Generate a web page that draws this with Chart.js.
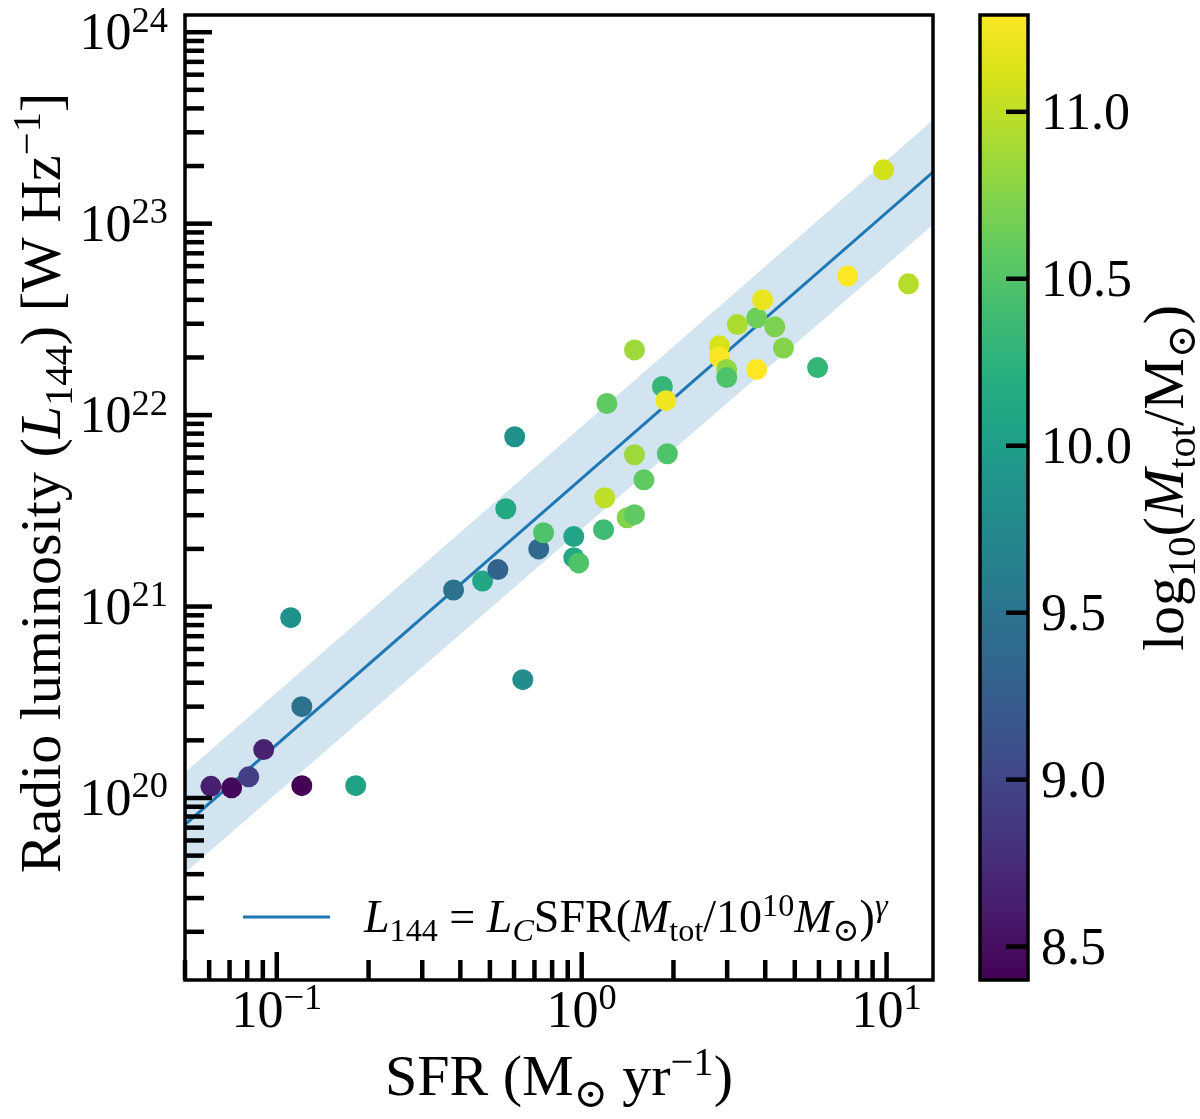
<!DOCTYPE html>
<html>
<head>
<meta charset="UTF-8" />
<script src="https://cdn.jsdelivr.net/npm/chart.js@4.4.0/dist/chart.umd.min.js"></script>
<title>Radio luminosity vs SFR</title>
<style>
	html, body { margin: 0; padding: 0; background: #fff; }
</style>
</head>
<body>
<canvas id="chart" width="1200" height="1119"></canvas>
<script>
// galaxies: SFR (Msun/yr), L144 (W/Hz), log10 total mass
const sfr = [0.0608, 0.0711, 0.0809, 0.0906, 0.1208, 0.1111, 0.1208, 0.1815, 0.380, 0.473,
	0.531, 0.564, 0.603, 0.641, 0.723, 0.750, 0.942, 0.942, 0.978, 1.18,
	1.19, 1.21, 1.41, 1.49, 1.49, 1.60, 1.91, 1.49, 1.84, 1.89,
	2.83, 2.83, 2.99, 2.99, 3.24, 3.75, 3.92, 4.30, 3.75, 4.59,
	5.94, 7.45, 9.77, 11.8];
const lum = [1.15e20, 1.13e20, 1.29e20, 1.79e20, 1.16e20, 8.75e20, 3.0e20, 1.16e20, 1.22e21, 1.36e21,
	1.56e21, 3.24e21, 7.71e21, 4.15e20, 2.0e21, 2.43e21, 2.32e21, 1.80e21, 1.69e21, 2.52e21,
	3.70e21, 1.15e22, 2.91e21, 3.02e21, 6.21e21, 4.59e21, 6.28e21, 2.19e22, 1.41e22, 1.19e22,
	2.30e22, 2.01e22, 1.73e22, 1.57e22, 2.97e22, 3.22e22, 4.00e22, 2.89e22, 1.73e22, 2.24e22,
	1.77e22, 5.33e22, 1.91e23, 4.85e22];
const logMass = [8.63, 8.45, 8.92, 8.66, 8.40, 9.85, 9.47, 10.05, 9.48, 10.10,
	9.30, 10.13, 9.85, 9.79, 9.38, 10.48, 10.08, 10.13, 10.48, 10.37,
	11.00, 10.57, 10.75, 10.57, 10.86, 10.57, 10.48, 10.86, 10.31, 11.23,
	11.11, 11.27, 10.80, 10.48, 10.93, 10.65, 11.20, 10.71, 11.29, 10.75,
	10.31, 11.29, 11.09, 10.97];

// best-fit relation and its scatter band, read at the axis edges
const fitSfr = [0.05, 14.2];
const fitLum = [7.26e19, 1.86e23];
const bandUpper = [1.36e20, 3.48e23];
const bandLower = [4.07e19, 9.87e22];

const xRange = [0.05, 14.2];
const yRange = [1.12e19, 1.23e24];
const cbRange = [8.40, 11.29];
const xMajorExp = [-1, 0, 1];
const yMajorExp = [20, 21, 22, 23, 24];
const cbTicks = [8.5, 9.0, 9.5, 10.0, 10.5, 11.0];

const viridisStops = ['#440154', '#48186a', '#472d7b', '#424086', '#3b528b', '#33638d', '#2c728e', '#26828e',
	'#21918c', '#1fa088', '#28ae80', '#3fbc73', '#5ec962', '#84d44b', '#addc30', '#d8e219', '#fde725'];

function hexRgb(h) {
	return [parseInt(h.slice(1, 3), 16), parseInt(h.slice(3, 5), 16), parseInt(h.slice(5, 7), 16)];
}
function viridis(v) {
	let t = (v - cbRange[0]) / (cbRange[1] - cbRange[0]);
	t = Math.max(0, Math.min(1, t));
	const p = t * (viridisStops.length - 1);
	const i = Math.min(Math.floor(p), viridisStops.length - 2);
	const f = p - i;
	const a = hexRgb(viridisStops[i]), b = hexRgb(viridisStops[i + 1]);
	const c = a.map((x, k) => Math.round(x + (b[k] - x) * f));
	return `rgb(${c[0]},${c[1]},${c[2]})`;
}

const SERIF = '"Liberation Serif", "DejaVu Serif", serif';
function font(size, italic) {
	return (italic ? 'italic ' : '') + size + 'px ' + SERIF;
}

// parts: {t, sup, sub, i}
function richWidth(ctx, parts, size) {
	let w = 0;
	parts.forEach(p => {
		const s = (p.sup || p.sub) ? size * 0.7 : size;
		ctx.font = font(s, p.i);
		w += ctx.measureText(p.t).width;
	});
	return w;
}
function drawRich(ctx, parts, x, y, size, align) {
	const w = richWidth(ctx, parts, size);
	let cx = align === 'right' ? x - w : align === 'center' ? x - w / 2 : x;
	ctx.textBaseline = 'alphabetic';
	ctx.textAlign = 'left';
	parts.forEach(p => {
		const s = (p.sup || p.sub) ? size * 0.7 : size;
		const dy = p.sup ? -size * 0.34 : p.sub ? size * 0.2 : 0;
		ctx.font = font(s, p.i);
		ctx.fillText(p.t, cx, y + dy);
		cx += ctx.measureText(p.t).width;
	});
}

const decor = {
	id: 'decor',
	afterDraw(chart) {
		const ctx = chart.ctx;
		const { left, right, top, bottom } = chart.chartArea;
		const xs = chart.scales.x, ys = chart.scales.y, cb = chart.scales.cb;
		ctx.save();
		ctx.fillStyle = '#000';
		ctx.strokeStyle = '#000';

		// inward ticks
		ctx.lineWidth = 4.5;
		ctx.lineCap = 'butt';
		for (let n = -2; n <= 1; n++) {
			for (let m = 1; m <= 9; m++) {
				const v = m * Math.pow(10, n);
				if (v < xRange[0] || v > xRange[1]) continue;
				const px = xs.getPixelForValue(v);
				const len = m === 1 ? 28 : 20;
				ctx.beginPath();
				ctx.moveTo(px, bottom);
				ctx.lineTo(px, bottom - len);
				ctx.stroke();
			}
		}
		for (let n = 19; n <= 24; n++) {
			for (let m = 1; m <= 9; m++) {
				const v = m * Math.pow(10, n);
				if (v < yRange[0] || v > yRange[1]) continue;
				const py = ys.getPixelForValue(v);
				const len = m === 1 ? 27 : 19;
				ctx.beginPath();
				ctx.moveTo(left, py);
				ctx.lineTo(left + len, py);
				ctx.stroke();
			}
		}

		// frame
		ctx.lineWidth = 3.5;
		ctx.strokeRect(left, top, right - left, bottom - top);

		// tick labels
		const tl = 52;
		xMajorExp.forEach(e => {
			const px = xs.getPixelForValue(Math.pow(10, e));
			drawRich(ctx, [{ t: '10' }, { t: String(e).replace('-', '\u2212'), sup: true }], px, 1027, tl, 'center');
		});
		yMajorExp.forEach(e => {
			const py = ys.getPixelForValue(Math.pow(10, e));
			drawRich(ctx, [{ t: '10' }, { t: String(e), sup: true }], 168, py + tl * 0.33, tl, 'right');
		});

		// axis titles
		const tt = 58;
		drawRich(ctx, [{ t: 'SFR (M' }, { t: '\u2299', sub: true }, { t: ' yr' }, { t: '\u22121', sup: true }, { t: ')' }],
			(left + right) / 2, 1095, tt, 'center');
		ctx.save();
		ctx.translate(60, 483);
		ctx.rotate(-Math.PI / 2);
		drawRich(ctx, [{ t: 'Radio luminosity (' }, { t: 'L', i: true }, { t: '144', sub: true }, { t: ') [W Hz' },
			{ t: '\u22121', sup: true }, { t: ']' }], 0, 0, tt, 'center');
		ctx.restore();

		// colorbar
		const cbL = 980, cbR = 1028;
		const g = ctx.createLinearGradient(0, cb.bottom, 0, cb.top);
		viridisStops.forEach((c, i) => g.addColorStop(i / (viridisStops.length - 1), c));
		ctx.fillStyle = g;
		ctx.fillRect(cbL, cb.top, cbR - cbL, cb.bottom - cb.top);
		ctx.fillStyle = '#000';
		ctx.lineWidth = 4.5;
		cbTicks.forEach(v => {
			const py = cb.getPixelForValue(v);
			ctx.beginPath();
			ctx.moveTo(cbR - 22, py);
			ctx.lineTo(cbR, py);
			ctx.stroke();
			drawRich(ctx, [{ t: v.toFixed(1) }], 1041, py + tl * 0.33, tl, 'left');
		});
		ctx.lineWidth = 3.5;
		ctx.strokeRect(cbL, cb.top, cbR - cbL, cb.bottom - cb.top);
		ctx.save();
		ctx.translate(1183, 478);
		ctx.rotate(-Math.PI / 2);
		drawRich(ctx, [{ t: 'log' }, { t: '10', sub: true }, { t: '(' }, { t: 'M', i: true }, { t: 'tot', sub: true },
			{ t: '/M' }, { t: '\u2299', sub: true }, { t: ')' }], 0, 0, tt, 'center');
		ctx.restore();

		// legend
		ctx.strokeStyle = '#1f77b4';
		ctx.lineWidth = 3;
		ctx.beginPath();
		ctx.moveTo(243, 917);
		ctx.lineTo(330, 917);
		ctx.stroke();
		drawRich(ctx, [{ t: 'L', i: true }, { t: '144', sub: true }, { t: ' = ' }, { t: 'L', i: true }, { t: 'C', sub: true, i: true },
			{ t: 'SFR(' }, { t: 'M', i: true }, { t: 'tot', sub: true }, { t: '/10' }, { t: '10', sup: true },
			{ t: 'M', i: true }, { t: '\u2299', sub: true }, { t: ')' }, { t: '\u03b3', sup: true, i: true }], 364, 932, 46, 'left');
		ctx.restore();
	}
};

const points = sfr.map((x, i) => ({ x: x, y: lum[i] }));

new Chart(document.getElementById('chart'), {
	type: 'scatter',
	data: {
		datasets: [
			{
				label: 'galaxies',
				data: points,
				backgroundColor: logMass.map(viridis),
				pointRadius: 10.5,
				borderWidth: 0,
				order: 0
			},
			{
				label: 'fit',
				data: fitSfr.map((x, i) => ({ x: x, y: fitLum[i] })),
				showLine: true,
				borderColor: '#1f77b4',
				borderWidth: 3,
				pointRadius: 0,
				order: 1
			},
			{
				label: 'upper',
				data: fitSfr.map((x, i) => ({ x: x, y: bandUpper[i] })),
				showLine: true,
				borderWidth: 0,
				pointRadius: 0,
				backgroundColor: 'rgba(31,119,180,0.2)',
				fill: '+1',
				order: 2
			},
			{
				label: 'lower',
				data: fitSfr.map((x, i) => ({ x: x, y: bandLower[i] })),
				showLine: true,
				borderWidth: 0,
				pointRadius: 0,
				order: 3
			}
		]
	},
	options: {
		responsive: false,
		animation: false,
		events: [],
		layout: { padding: { top: 15, left: 0, right: 0, bottom: 0 } },
		plugins: {
			legend: { display: false },
			tooltip: { enabled: false }
		},
		scales: {
			x: {
				type: 'logarithmic',
				position: 'bottom',
				min: xRange[0],
				max: xRange[1],
				grid: { display: false },
				border: { display: false },
				ticks: { display: false },
				afterFit: s => { s.height = 139; }
			},
			y: {
				type: 'logarithmic',
				position: 'left',
				min: yRange[0],
				max: yRange[1],
				grid: { display: false },
				border: { display: false },
				ticks: { display: false },
				afterFit: s => { s.width = 185; }
			},
			cb: {
				type: 'linear',
				position: 'right',
				min: cbRange[0],
				max: cbRange[1],
				grid: { display: false },
				border: { display: false },
				ticks: { display: false },
				afterFit: s => { s.width = 267; }
			}
		}
	},
	plugins: [decor]
});
</script>
</body>
</html>
